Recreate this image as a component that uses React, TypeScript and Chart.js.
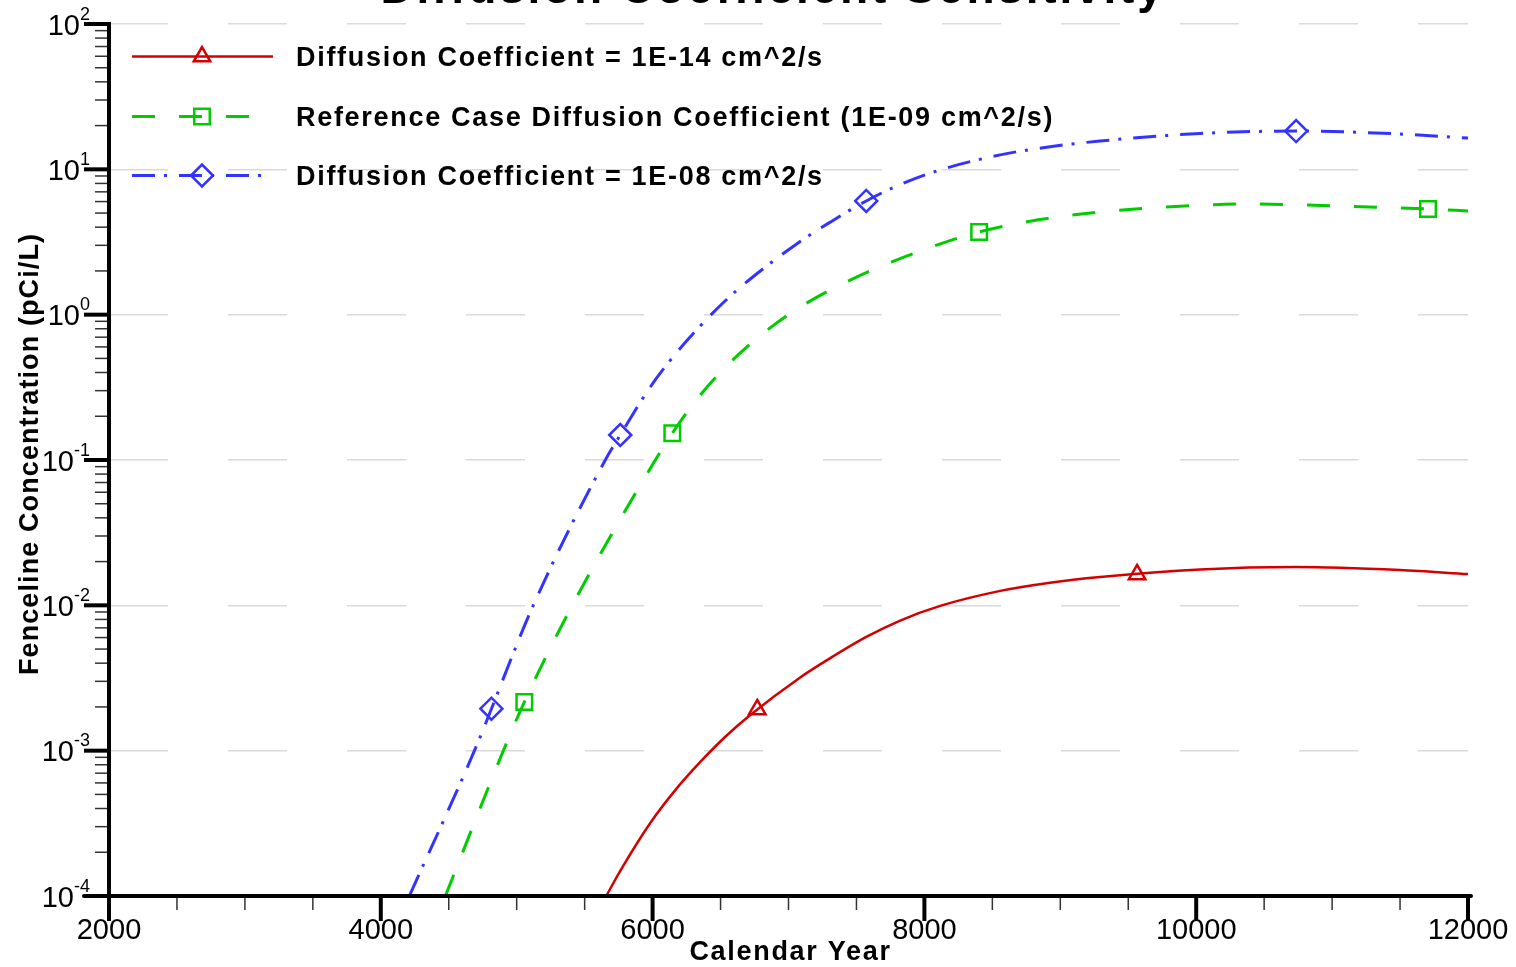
import React, { useEffect, useRef } from 'react';
import { Chart, registerables } from 'chart.js';

Chart.register(...registerables);

// ---------------- data ----------------
const CHART_TITLE = 'Diffusion Coefficient Sensitivity';
const X_AXIS_TITLE = 'Calendar Year';
const Y_AXIS_TITLE = 'Fenceline Concentration (pCi/L)';
const SERIES_NAMES = [
  'Diffusion Coefficient = 1E-14 cm^2/s',
  'Reference Case Diffusion Coefficient (1E-09 cm^2/s)',
  'Diffusion Coefficient = 1E-08 cm^2/s',
];

const X_MIN = 2000;
const X_MAX = 12000;
const X_STEP = 500;
const X_LABEL_STEP = 2000;
const Y_DECADES = [1e-4, 1e-3, 1e-2, 1e-1, 1e0, 1e1, 1e2];
const Y_MINOR_MULTIPLIERS = [2, 3, 4, 5, 6, 7, 8, 9];

// 1E-14 cm^2/s
const lowYears = [5659, 5762, 5983, 6167, 6351, 6535, 6719, 7086, 7307, 7572, 7822, 8116, 8558, 8925, 9293, 10029, 10735, 11500, 12000];
const lowValues = [1e-4, 1.49e-4, 3.18e-4, 5.35e-4, 8.36e-4, 1.247e-3, 1.76e-3, 3.19e-3, 4.33e-3, 6.06e-3, 7.86e-3, 9.91e-3, 1.257e-2, 1.431e-2, 1.566e-2, 1.765e-2, 1.835e-2, 1.75e-2, 1.64e-2];
const lowMarkerYears = [6770, 9565];
const lowMarkerValues = [1.92e-3, 1.63e-2];

// Reference case 1E-09 cm^2/s
const refYears = [4475, 4902, 5056, 5409, 6020, 6145, 6351, 6645, 7013, 7454, 7969, 8403, 8977, 9661, 10382, 11058, 11720, 12000];
const refValues = [1e-4, 1e-3, 2.16e-3, 1e-2, 0.1, 0.153, 0.28, 0.545, 1.02, 1.73, 2.74, 3.71, 4.7, 5.42, 5.77, 5.59, 5.33, 5.17];
const refMarkerYears = [5056, 6145, 8403, 11706];
const refMarkerValues = [2.16e-3, 0.153, 3.71, 5.33];

// 1E-08 cm^2/s
const highYears = [4210, 4689, 5122, 5652, 5762, 5983, 6167, 6351, 6535, 6719, 7086, 7307, 7572, 7822, 8116, 8558, 8925, 9293, 10029, 10735, 11500, 12000];
const highValues = [1e-4, 1e-3, 1e-2, 0.1, 0.1486, 0.318, 0.535, 0.836, 1.247, 1.76, 3.19, 4.33, 6.06, 7.86, 9.91, 12.57, 14.31, 15.66, 17.65, 18.35, 17.5, 16.4];
const highMarkerYears = [4814, 5762, 7572, 10735];
const highMarkerValues = [1.945e-3, 0.1486, 6.06, 18.35];

// ---------------- styles ----------------
const RED = '#d40000';
const GREEN = '#00cc00';
const BLUE = '#3333ff';
const GREEN_DASH = [23, 24];
const BLUE_DASH = [23, 9, 3, 12];
const FONT = '"Liberation Sans", Arial, Helvetica, sans-serif';

const SERIES_STYLES = [
  { color: RED, dash: [] as number[], marker: 'triangle', r: 9.5 },
  { color: GREEN, dash: GREEN_DASH, marker: 'rect', r: 11 },
  { color: BLUE, dash: BLUE_DASH, marker: 'rectRot', r: 11 },
];

const zip = (xs: number[], ys: number[]) => xs.map((x, i) => ({ x, y: ys[i] }));

function markerPath(ctx: CanvasRenderingContext2D, style: string, x: number, y: number, r: number) {
  ctx.beginPath();
  if (style === 'triangle') {
    let a = 0;
    ctx.moveTo(x + Math.sin(a) * r, y - Math.cos(a) * r);
    a += (2 * Math.PI) / 3;
    ctx.lineTo(x + Math.sin(a) * r, y - Math.cos(a) * r);
    a += (2 * Math.PI) / 3;
    ctx.lineTo(x + Math.sin(a) * r, y - Math.cos(a) * r);
    ctx.closePath();
  } else if (style === 'rect') {
    const s = Math.SQRT1_2 * r;
    ctx.rect(x - s, y - s, 2 * s, 2 * s);
  } else {
    ctx.moveTo(x - r, y);
    ctx.lineTo(x, y - r);
    ctx.lineTo(x + r, y);
    ctx.lineTo(x, y + r);
    ctx.closePath();
  }
}

const decorPlugin = {
  id: 'decor',
  afterDraw(chart: any) {
    const { ctx, chartArea, scales } = chart;
    const xs = scales.x;
    const ys = scales.y;
    const { left, right, top, bottom } = chartArea;
    const seg = (x1: number, y1: number, x2: number, y2: number) => {
      ctx.beginPath();
      ctx.moveTo(x1, y1);
      ctx.lineTo(x2, y2);
      ctx.stroke();
    };
    ctx.save();
    ctx.lineCap = 'butt';

    // minor ticks
    ctx.strokeStyle = '#333';
    ctx.lineWidth = 1.5;
    for (let i = 0; i < Y_DECADES.length - 1; i++) {
      for (const m of Y_MINOR_MULTIPLIERS) {
        const py = ys.getPixelForValue(Y_DECADES[i] * m);
        seg(left - 14, py, left, py);
      }
    }
    xs.ticks.forEach((t: any) => {
      if (t.value % X_LABEL_STEP !== 0) {
        const px = xs.getPixelForValue(t.value);
        seg(px, bottom, px, bottom + 14);
      }
    });

    // major ticks
    ctx.strokeStyle = '#000';
    ctx.lineWidth = 4;
    ys.ticks.forEach((t: any) => {
      const py = ys.getPixelForValue(t.value);
      seg(left - 25, py, left, py);
    });
    xs.ticks.forEach((t: any) => {
      if (t.value % X_LABEL_STEP === 0) {
        const px = xs.getPixelForValue(t.value);
        seg(px, bottom, px, bottom + 25);
      }
    });

    // axis lines
    ctx.lineWidth = 4;
    seg(left, top - 2, left, bottom + 2);
    ctx.lineCap = 'round';
    seg(left - 25, bottom, right + 3, bottom);
    ctx.lineCap = 'butt';

    // tick labels
    ctx.fillStyle = '#000';
    ctx.textBaseline = 'alphabetic';
    ctx.font = `29px ${FONT}`;
    ctx.textAlign = 'center';
    xs.ticks.forEach((t: any) => {
      if (t.value % X_LABEL_STEP === 0) {
        const px = xs.getPixelForValue(t.value);
        ctx.fillText(String(t.value), px, bottom + 43);
      }
    });
    ys.ticks.forEach((t: any) => {
      const py = ys.getPixelForValue(t.value);
      const exp = String(Math.round(Math.log10(t.value)));
      ctx.textAlign = 'right';
      ctx.font = `18px ${FONT}`;
      const ew = ctx.measureText(exp).width;
      ctx.fillText(exp, 90, py - 4.5);
      ctx.font = `29px ${FONT}`;
      ctx.fillText('10', 90 - ew, py + 10.5);
    });

    // axis titles
    ctx.font = `bold 27px ${FONT}`;
    (ctx as any).letterSpacing = '1.7px';
    ctx.textAlign = 'center';
    ctx.fillText(X_AXIS_TITLE, (left + right) / 2 + 2, 960);
    ctx.save();
    (ctx as any).letterSpacing = '1.1px';
    ctx.translate(38, 454);
    ctx.rotate(-Math.PI / 2);
    ctx.fillText(Y_AXIS_TITLE, 0, 0);
    ctx.restore();

    // chart title (cut off at the top)
    ctx.font = `bold 46px ${FONT}`;
    (ctx as any).letterSpacing = '2.8px';
    ctx.fillText(CHART_TITLE, 773, 3);

    // legend
    const rows = [56.5, 116.5, 175.5];
    SERIES_NAMES.forEach((name, i) => {
      const st = SERIES_STYLES[i];
      const yy = rows[i];
      ctx.strokeStyle = st.color;
      ctx.lineWidth = i === 0 ? 2.5 : 3;
      ctx.setLineDash(st.dash);
      ctx.lineDashOffset = 0;
      seg(132, yy, 273, yy);
      ctx.setLineDash([]);
      ctx.lineWidth = 2.5;
      markerPath(ctx, st.marker, 202, yy, st.r);
      ctx.stroke();
      ctx.fillStyle = '#000';
      ctx.font = `bold 27px ${FONT}`;
      (ctx as any).letterSpacing = '1.7px';
      ctx.textAlign = 'left';
      ctx.fillText(name, 296, yy + 9.5);
    });
    (ctx as any).letterSpacing = '0px';
    ctx.restore();
  },
};

export default function App() {
  const canvasRef = useRef<HTMLCanvasElement | null>(null);

  useEffect(() => {
    if (!canvasRef.current) return;
    const lineDs = (years: number[], vals: number[], i: number) => ({
      label: SERIES_NAMES[i],
      data: zip(years, vals),
      borderColor: SERIES_STYLES[i].color,
      borderWidth: i === 0 ? 2.5 : 3,
      borderDash: SERIES_STYLES[i].dash,
      pointRadius: 0,
      fill: false,
      cubicInterpolationMode: 'monotone' as const,
      order: 2,
    });
    const markerDs = (years: number[], vals: number[], i: number) => ({
      label: SERIES_NAMES[i] + ' markers',
      data: zip(years, vals),
      showLine: false,
      borderColor: SERIES_STYLES[i].color,
      backgroundColor: 'rgba(0,0,0,0)',
      pointStyle: SERIES_STYLES[i].marker,
      pointRadius: SERIES_STYLES[i].r,
      pointBorderWidth: 2.5,
      pointBackgroundColor: 'rgba(0,0,0,0)',
      pointBorderColor: SERIES_STYLES[i].color,
      order: 1,
    });

    const chart = new Chart(canvasRef.current, {
      type: 'line',
      data: {
        datasets: [
          lineDs(lowYears, lowValues, 0),
          lineDs(refYears, refValues, 1),
          lineDs(highYears, highValues, 2),
          markerDs(lowMarkerYears, lowMarkerValues, 0),
          markerDs(refMarkerYears, refMarkerValues, 1),
          markerDs(highMarkerYears, highMarkerValues, 2),
        ] as any,
      },
      options: {
        animation: false,
        responsive: false,
        maintainAspectRatio: false,
        layout: { padding: { left: 109, right: 48, top: 24, bottom: 71 } },
        plugins: { legend: { display: false }, title: { display: false }, tooltip: { enabled: false } },
        scales: {
          x: {
            type: 'linear',
            min: X_MIN,
            max: X_MAX,
            ticks: { display: false, stepSize: X_STEP },
            grid: { display: false, drawTicks: false },
            border: { display: false },
          },
          y: {
            type: 'logarithmic',
            min: Y_DECADES[0],
            max: Y_DECADES[Y_DECADES.length - 1],
            afterBuildTicks: (s: any) => {
              s.ticks = Y_DECADES.map((v) => ({ value: v }));
            },
            ticks: { display: false },
            grid: { color: '#dadada', lineWidth: 1.5, drawTicks: false },
            border: { display: false, dash: [59, 60] },
          },
        },
      } as any,
      plugins: [decorPlugin],
    });
    return () => chart.destroy();
  }, []);

  return (
    <div style={{ position: 'absolute', left: 0, top: 0, width: 1516, height: 967, background: '#fff' }}>
      <canvas ref={canvasRef} width={1516} height={967} style={{ display: 'block' }} />
    </div>
  );
}
